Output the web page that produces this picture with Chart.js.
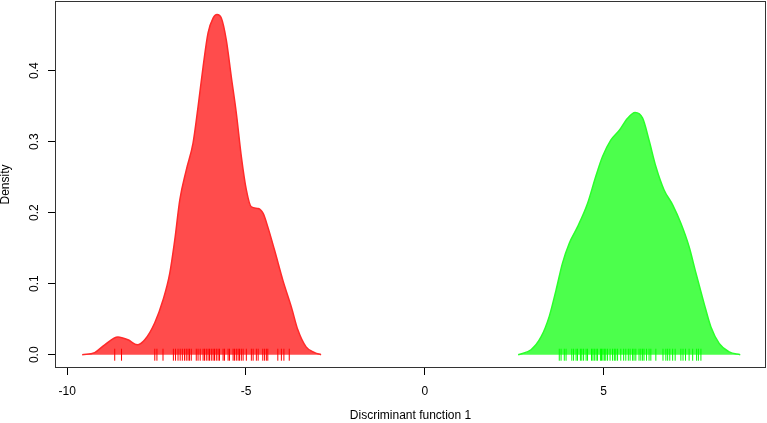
<!DOCTYPE html>
<html>
<head>
<meta charset="utf-8">
<script src="https://cdn.jsdelivr.net/npm/chart.js@4"></script>
<style>
  html, body { margin: 0; padding: 0; background: #fff; }
  #wrap { width: 767px; height: 423px; }
</style>
</head>
<body>
<div id="wrap"><canvas id="densityChart" width="767" height="423"></canvas></div>
<script>
// ---- DATA ----
const xTicks = [-10, -5, 0, 5];
const yTicks = [0, 0.1, 0.2, 0.3, 0.4];

const redX = [-9.58, -9.23, -8.95, -8.58, -8.30, -8.04, -7.83, -7.55, -7.32, -7.13, -6.99, -6.85, -6.67, -6.48, -6.34, -6.20, -6.06, -5.92, -5.81, -5.69, -5.55, -5.41, -5.27, -5.13, -4.99, -4.85, -4.66, -4.52, -4.39, -4.20, -3.97, -3.73, -3.55, -3.32, -3.08, -2.90];
const redY = [0, 0.003, 0.014, 0.025, 0.021, 0.014, 0.021, 0.045, 0.077, 0.115, 0.162, 0.218, 0.260, 0.298, 0.349, 0.405, 0.453, 0.474, 0.479, 0.474, 0.443, 0.391, 0.340, 0.279, 0.232, 0.208, 0.206, 0.199, 0.180, 0.147, 0.105, 0.067, 0.035, 0.011, 0.003, 0];

const greenX = [2.61, 2.97, 3.25, 3.48, 3.67, 3.85, 4.04, 4.27, 4.55, 4.78, 4.97, 5.20, 5.44, 5.67, 5.88, 6.09, 6.27, 6.46, 6.69, 6.93, 7.16, 7.39, 7.58, 7.81, 8.00, 8.23, 8.51, 8.82];
const greenY = [0, 0.007, 0.025, 0.054, 0.091, 0.129, 0.157, 0.180, 0.213, 0.251, 0.279, 0.302, 0.316, 0.333, 0.341, 0.333, 0.302, 0.265, 0.232, 0.211, 0.185, 0.152, 0.115, 0.072, 0.039, 0.016, 0.004, 0];

const redRug = [-8.67, -8.48, -7.55, -7.49, -7.32, -7.03, -6.97, -6.90, -6.84, -6.78, -6.72, -6.67, -6.62, -6.58, -6.53, -6.39, -6.34, -6.28, -6.20, -6.16, -6.11, -6.06, -6.02, -5.97, -5.92, -5.88, -5.83, -5.78, -5.74, -5.64, -5.60, -5.50, -5.46, -5.36, -5.32, -5.27, -5.22, -5.18, -5.13, -5.08, -4.99, -4.85, -4.80, -4.71, -4.66, -4.53, -4.48, -4.43, -4.39, -4.11, -4.01, -3.94, -3.79];
const greenRug = [3.76, 3.81, 3.90, 3.95, 4.11, 4.16, 4.23, 4.27, 4.35, 4.39, 4.44, 4.51, 4.55, 4.66, 4.70, 4.74, 4.79, 4.83, 4.91, 4.94, 4.98, 5.02, 5.06, 5.11, 5.18, 5.25, 5.30, 5.34, 5.39, 5.48, 5.56, 5.62, 5.69, 5.74, 5.81, 5.85, 5.90, 5.99, 6.04, 6.09, 6.13, 6.20, 6.27, 6.32, 6.46, 6.66, 6.74, 6.79, 6.85, 6.93, 7.00, 7.16, 7.22, 7.29, 7.39, 7.49, 7.60, 7.65, 7.72];

const FONT = { family: '"Liberation Sans", Arial, sans-serif', size: 12 };

const pts = (xs, ys) => xs.map((x, i) => ({ x, y: ys[i] }));
const rug = xs => xs.map(x => ({ x, y: 0 }));

// box around the plot region, like R's box()
const boxPlugin = {
  id: 'box',
  afterDraw(c) {
    const a = c.chartArea, ctx = c.ctx;
    ctx.save();
    ctx.strokeStyle = '#333';
    ctx.lineWidth = 1;
    ctx.strokeRect(a.left + 0.5, a.top + 0.5, a.right - a.left - 1, a.bottom - a.top - 1);
    ctx.restore();
  }
};

new Chart(document.getElementById('densityChart'), {
  type: 'scatter',
  data: {
    datasets: [
      { type: 'scatter', data: rug(redRug), order: 0, pointStyle: 'line', rotation: 90, radius: 6, borderColor: '#ff0000', borderWidth: 1 },
      { type: 'scatter', data: rug(greenRug), order: 0, pointStyle: 'line', rotation: 90, radius: 6, borderColor: '#00ff00', borderWidth: 1 },
      { type: 'line', data: pts(redX, redY), order: 1, borderColor: '#ff2a2a', backgroundColor: 'rgba(255,0,0,0.7)', borderWidth: 1.5, pointRadius: 0, fill: 'origin', cubicInterpolationMode: 'monotone' },
      { type: 'line', data: pts(greenX, greenY), order: 1, borderColor: '#2aff2a', backgroundColor: 'rgba(0,255,0,0.7)', borderWidth: 1.5, pointRadius: 0, fill: 'origin', cubicInterpolationMode: 'monotone' },
    ]
  },
  options: {
    responsive: false,
    animation: false,
    devicePixelRatio: 1,
    layout: { autoPadding: false, padding: { top: 1, right: 1, left: 0, bottom: 0 } },
    plugins: { legend: { display: false }, tooltip: { enabled: false } },
    scales: {
      x: {
        type: 'linear', min: -10.34, max: 9.54,
        afterFit: s => { s.height = 55; s.paddingLeft = 0; s.paddingRight = 0; },
        afterBuildTicks: s => { s.ticks = xTicks.map(v => ({ value: v })); },
        grid: { drawOnChartArea: false, drawTicks: true, tickLength: 7, color: '#000' },
        border: { display: false },
        ticks: { color: '#000', font: FONT, padding: 9, maxRotation: 0, callback: v => String(v) },
        title: { display: true, text: 'Discriminant function 1', color: '#000', font: { ...FONT, lineHeight: 1 }, padding: { top: 0, bottom: 1 } }
      },
      y: {
        type: 'linear', min: -0.0187, max: 0.498,
        afterFit: s => { s.width = 55; s.paddingTop = 0; s.paddingBottom = 0; },
        afterBuildTicks: s => { s.ticks = yTicks.map(v => ({ value: v })); },
        grid: { drawOnChartArea: false, drawTicks: true, tickLength: 7, color: '#000' },
        border: { display: false },
        ticks: { color: '#000', font: FONT, padding: 5, minRotation: 90, maxRotation: 90, crossAlign: 'center', callback: v => v.toFixed(1) },
        title: { display: true, text: 'Density', color: '#000', font: { ...FONT, lineHeight: 1 }, padding: { top: 0, bottom: 0 } }
      }
    }
  },
  plugins: [boxPlugin]
});
</script>
</body>
</html>
